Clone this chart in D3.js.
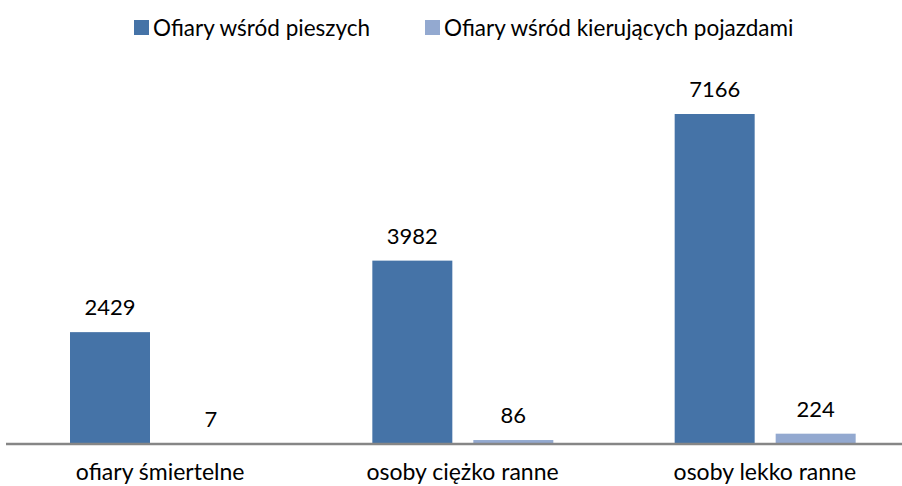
<!DOCTYPE html>
<html><head><meta charset="utf-8">
<script src="https://cdn.jsdelivr.net/npm/d3@7"></script>
<style>body{margin:0;background:#fff}svg{display:block}text{font-family:Lato,"Open Sans",sans-serif;fill:#000}</style>
</head><body><svg id="c" width="902" height="486"></svg>
<script>
const categories = ["ofiary śmiertelne", "osoby ciężko ranne", "osoby lekko ranne"];
const seriesNames = ["Ofiary wśród pieszych", "Ofiary wśród kierujących pojazdami"];
const pedestrians = [2429, 3982, 7166];
const drivers = [7, 86, 224];
const colors = ["#4573A7", "#93A9D0"];

const svg = d3.select("#c");
const x0 = d3.scaleBand().domain(categories).range([9, 916]).paddingInner(0).paddingOuter(0);
const x1 = d3.scaleBand().domain([0,1]).range([61, 242]).paddingInner(21/101);
const y = d3.scaleLinear().domain([0, 8000]).range([444, 75.6]);

const data = categories.map((c,i)=>({c, v:[pedestrians[i], drivers[i]]}));
const g = svg.append("g");
data.forEach(d=>{
  d.v.forEach((v,s)=>{
    g.append("rect").attr("x", x0(d.c)+x1(s)).attr("width", x1.bandwidth())
      .attr("y", y(v)).attr("height", y(0)-y(v)).attr("fill", colors[s]);
    g.append("text").attr("x", x0(d.c)+x1(s)+x1.bandwidth()/2).attr("y", y(v)-17)
      .attr("text-anchor","middle").attr("font-size", 22).text(v);
  });
});
// axis
const ax = svg.append("g").attr("transform","translate(0,444)")
  .call(d3.axisBottom(x0).tickSize(0).tickPadding(23));
ax.select(".domain").attr("stroke","#868686").attr("stroke-width",2.5).attr("d","M6,0H902");
ax.selectAll("text").attr("font-size",23).attr("fill","#000").attr("dy","0").attr("y",36)
  .attr("font-family","Lato,'Open Sans',sans-serif");

// legend
const leg = [{x:134, tx:153, s:0},{x:425, tx:444, s:1}];
leg.forEach(l=>{
  svg.append("rect").attr("x",l.x).attr("y",20).attr("width",15).attr("height",15).attr("fill",colors[l.s]);
  svg.append("text").attr("x",l.tx).attr("y",36).attr("font-size",22.5).text(seriesNames[l.s]);
});
</script></body></html>
